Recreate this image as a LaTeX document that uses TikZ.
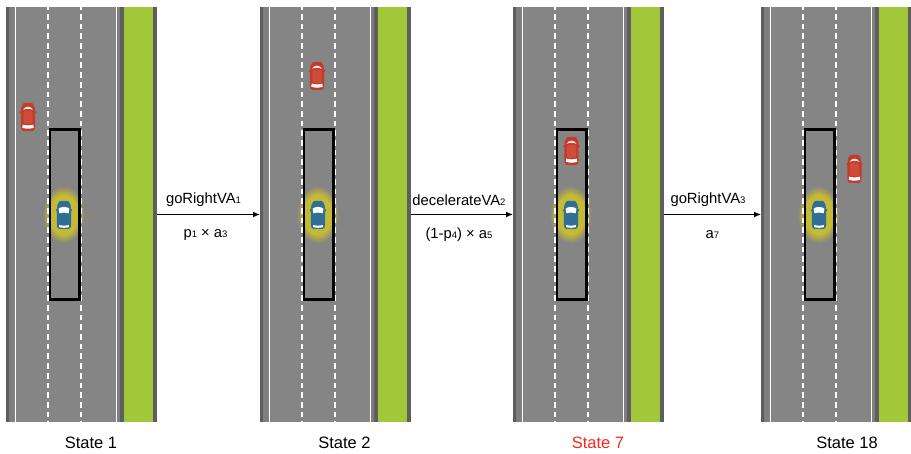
\documentclass[tikz,border=0pt]{standalone}
\usepackage{fontspec}
\setmainfont{Liberation Sans}
\usetikzlibrary{arrows.meta}
\definecolor{roadgray}{HTML}{858585}
\definecolor{edgedark}{HTML}{5E5E5E}
\definecolor{shoulder}{HTML}{7E7E7E}
\definecolor{grass}{HTML}{A2C83A}
\definecolor{carred}{HTML}{C53A2A}
\definecolor{carredlight}{HTML}{CF4C39}
\definecolor{carblue}{HTML}{2F6E96}
\definecolor{halo}{HTML}{C4BA34}
\definecolor{statered}{HTML}{F5281C}
\newcommand{\lowidx}[1]{{\fontsize{9.5}{9.5}\selectfont #1}}
% outline of a car seen from above, centred on the origin, with wing mirrors
\newcommand{\carbody}[1]{%
  \fill[#1] (-4.6,-13.6) .. controls (-2.5,-14.4) and (2.5,-14.4) .. (4.6,-13.6)
    .. controls (6.4,-12) and (7,-9) .. (7,-6) -- (8.2,-5.2) -- (8.2,-3.8) -- (7.1,-3.8) -- (7.1,10)
    .. controls (7.1,12.4) and (6.2,13.6) .. (4.5,14) -- (-4.5,14)
    .. controls (-6.2,13.6) and (-7.1,12.4) .. (-7.1,10) -- (-7.1,-3.8) -- (-8.2,-3.8) -- (-8.2,-5.2) -- (-7,-6)
    .. controls (-7,-9) and (-6.4,-12) .. (-4.6,-13.6) -- cycle;}
\tikzset{
  x=1pt,y=-1pt,
  roadbase/.style={rectangle,draw=none,fill=roadgray,minimum width=150.5pt,minimum height=415pt,inner sep=0pt,outer sep=0pt},
  statelabel/.style={font=\fontsize{16.5}{18}\selectfont,inner sep=0pt},
  edgelabel/.style={font=\fontsize{14.8}{17}\selectfont,inner sep=0pt},
  flow/.style={-{Latex[length=7pt,width=6pt]},line width=1.3pt,black},
  lanedash/.style={white,line width=1.7pt,dash pattern=on 5.7pt off 4pt,dash phase=2.7pt},
  pics/othercar/.style={code={
    \carbody{carred}
    \fill[carredlight,rounded corners=2pt] (-4.6,-6) rectangle (4.6,7);
    % hood highlight and rear window
    \fill[white!88!carred] (-5,-7.2) .. controls (-2.5,-11.4) and (2.5,-11.4) .. (5,-7.2)
      .. controls (2,-8.4) and (-2,-8.4) .. (-5,-7.2) -- cycle;
    \fill[white] (-5.4,7.6) .. controls (-2,8.6) and (2,8.6) .. (5.4,7.6)
      -- (5.6,10.8) .. controls (2,12) and (-2,12) .. (-5.6,10.8) -- cycle;
  }},
  pics/egocar/.style={code={
    \carbody{carblue}
    % windscreen and rear window
    \fill[white] (-5.4,-6.4) .. controls (-3,-8.6) and (3,-8.6) .. (5.4,-6.4)
      -- (4.6,-1.6) .. controls (2,-2.6) and (-2,-2.6) .. (-4.6,-1.6) -- cycle;
    \fill[white] (-4.8,10) .. controls (-2,10.8) and (2,10.8) .. (4.8,10)
      -- (5,12.2) .. controls (2,13) and (-2,13) .. (-5,12.2) -- cycle;
  }},
}
\begin{document}
\begin{tikzpicture}
\useasboundingbox (0,0) rectangle (911,454);
\foreach \n/\ox in {1/0,2/254,3/507,4/755}{
  \begin{scope}[xshift=\ox pt]
    \node[roadbase] (road\n) at (81.25,214.5) {};
    % shoulders, kerbs and verge
    \fill[shoulder] (9,7) rectangle (14,422);
    \fill[shoulder] (117,7) rectangle (120,422);
    \fill[edgedark] (6,7) rectangle (9,422);
    \fill[edgedark] (120,7) rectangle (123.5,422);
    \fill[grass] (123.5,7) rectangle (153,422);
    \fill[edgedark] (153,7) rectangle (156.5,422);
    % ego vehicle glow: concentric ellipses stepping from road colour to yellow
    \foreach \k in {0,...,15}{
      \pgfmathsetmacro{\mixv}{\k*100/15}
      \pgfmathsetmacro{\rxv}{21-0.42*\k}
      \pgfmathsetmacro{\ryv}{29-0.6*\k}
      \fill[halo!\mixv!roadgray] (64,215) ellipse ({\rxv} and {\ryv});
    }
    % lane markings
    \draw[white,line width=1pt] (15,7) -- (15,422);
    \draw[white,line width=1pt] (116,7) -- (116,422);
    \draw[lanedash] (47.7,7) -- (47.7,422);
    \draw[lanedash] (81.3,7) -- (81.3,422);
    % monitored zone and ego vehicle
    \draw[black,line width=2.6pt] (50,129.5) rectangle (79.5,299.5);
    \pic at (64,215) {egocar};
  \end{scope}
}
\pic at (28,117) {othercar};
\pic at (317,76) {othercar};
\pic at (571.5,151) {othercar};
\pic at (854.5,169) {othercar};

\draw[flow] (road1.east) -- (road2.west);
\draw[flow] (road2.east) -- (road3.west);
\draw[flow] (road3.east) -- (road4.west);

\node[edgelabel] (t1) at (203.5,200) {goRightVA\lowidx{1}};
\node[edgelabel] (b1) at (205.5,234.5) {p\lowidx{1} × a\lowidx{3}};
\node[edgelabel] (t2) at (459,200) {decelerateVA\lowidx{2}};
\node[edgelabel] (b2) at (459,234.5) {(1-p\lowidx{4}) × a\lowidx{5}};
\node[edgelabel] (t3) at (708,200) {goRightVA\lowidx{3}};
\node[edgelabel] (b3) at (712.5,234.5) {a\lowidx{7}};

\node[statelabel] (s1) at (91,442.5) {State 1};
\node[statelabel] (s2) at (344.5,442.5) {State 2};
\node[statelabel,text=statered] (s3) at (598,442.5) {State 7};
\node[statelabel] (s4) at (847,442.5) {State 18};
\end{tikzpicture}
\end{document}
